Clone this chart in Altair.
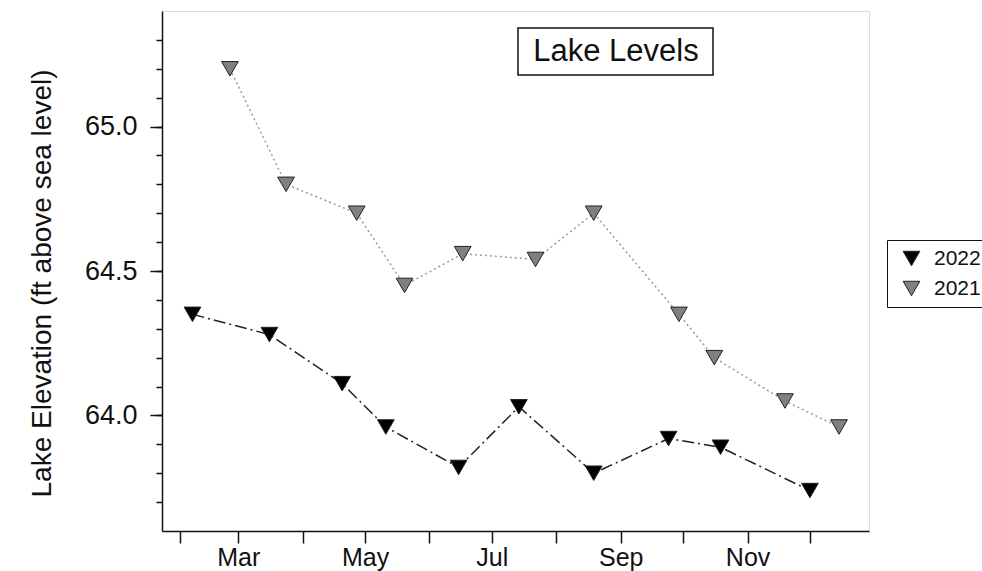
import altair as alt
import pandas as pd

FONT = "Liberation Sans"
TITLE = "Lake Levels"
Y_TITLE = "Lake Elevation (ft above sea level)"

# Survey dates (month-day) and lake elevations, one list pair per season
dates_2022 = ["02-07", "03-16", "04-20", "05-11", "06-15", "07-14",
              "08-19", "09-24", "10-19", "12-01"]
levels_2022 = [64.35, 64.28, 64.11, 63.96, 63.82, 64.03,
               63.80, 63.92, 63.89, 63.74]

dates_2021 = ["02-25", "03-24", "04-27", "05-20", "06-17", "07-22",
              "08-19", "09-29", "10-16", "11-19", "12-15"]
levels_2021 = [65.20, 64.80, 64.70, 64.45, 64.56, 64.54,
               64.70, 64.35, 64.20, 64.05, 63.96]

series = ["2022", "2021"]
fills = ["#000000", "#808080"]

# Both seasons are drawn against one shared Jan-Dec calendar axis
rows = []
for d, v in zip(dates_2022, levels_2022):
    rows.append({"year": "2022", "day": f"2022-{d}", "level": v})
for d, v in zip(dates_2021, levels_2021):
    rows.append({"year": "2021", "day": f"2022-{d}", "level": v})
df = pd.DataFrame(rows)

x_scale = alt.Scale(
    type="utc",
    domain=[alt.DateTime(year=2022, month=1, date=23, hours=8, utc=True),
            alt.DateTime(year=2022, month=12, date=29, hours=10, utc=True)],
)
month_ticks = [alt.DateTime(year=2022, month=m, date=1, utc=True) for m in range(2, 13)]
x_axis = alt.Axis(
    values=month_ticks,
    labelExpr="utcmonth(datum.value) % 2 == 0 ? utcFormat(datum.value, '%b') : ''",
    title=None, grid=False, tickSize=12, tickColor="#111", tickWidth=1.5,
    labelFontSize=25, labelFont=FONT, labelColor="#111", labelPadding=2,
    labelBaseline="top", domainColor="#111", domainWidth=1.5,
)
x_enc = alt.X("day:T", scale=x_scale, axis=x_axis)

y_scale = alt.Scale(domain=[63.6, 65.4], nice=False, zero=False)
y_major = alt.Axis(
    orient="left", values=[64.0, 64.5, 65.0], format=".1f", grid=False,
    tickSize=12, tickColor="#111", tickWidth=1.5, labelFontSize=27,
    labelFont=FONT, labelColor="#111", labelPadding=13,
    domainColor="#111", domainWidth=1.5,
    title=Y_TITLE, titleFont=FONT, titleFontSize=28, titleFontWeight="normal",
    titleColor="#111", titleAngle=270, titleX=-120, titleY=272,
    titleAlign="center", titleBaseline="middle",
)
minor_vals = [round(63.7 + 0.1 * i, 1) for i in range(17)]
y_minor = alt.Axis(
    orient="left", values=minor_vals, labels=False, grid=False, domain=False,
    tickSize=6, tickColor="#111", tickWidth=1.5, title=None,
)

base = alt.Chart(df)

line_2022 = base.transform_filter(alt.datum.year == "2022").mark_line(
    color="#222", strokeWidth=1.5, strokeDash=[12, 4, 2, 4]
).encode(x=x_enc, y=alt.Y("level:Q", scale=y_scale, axis=y_minor))

line_2021 = base.transform_filter(alt.datum.year == "2021").mark_line(
    color="#999", strokeWidth=1.5, strokeDash=[2, 3]
).encode(x=x_enc, y=alt.Y("level:Q", scale=y_scale, axis=None))

points = base.mark_point(
    shape="triangle-down", filled=True, size=280, stroke="#222",
    strokeWidth=1, opacity=1,
).encode(
    x=x_enc,
    y=alt.Y("level:Q", scale=y_scale, axis=y_major),
    fill=alt.Fill(
        "year:N",
        scale=alt.Scale(domain=series, range=fills),
        legend=alt.Legend(
            title=None, orient="none", legendX=725, legendY=229,
            strokeColor="#111", padding=8, symbolType="triangle-down",
            symbolSize=280, symbolStrokeColor="#222", symbolStrokeWidth=1,
            symbolOffset=6, labelOffset=12, labelFontSize=21, labelFont=FONT,
            labelColor="#111", rowPadding=8,
        ),
    ),
)

title_df = pd.DataFrame({"label": [TITLE]})
title_box = alt.Chart(title_df).mark_rect(
    fill="white", stroke="#111", strokeWidth=1.5
).encode(x=alt.value(356), x2=alt.value(551), y=alt.value(17), y2=alt.value(64))
title_text = alt.Chart(title_df).mark_text(
    font=FONT, fontSize=31, color="#111", align="center", baseline="middle"
).encode(x=alt.value(454), y=alt.value(41), text="label:N")

chart = alt.layer(
    line_2022, line_2021, points, title_box, title_text
).resolve_axis(y="independent").properties(
    width=707, height=520,
    autosize=alt.AutoSizeParams(type="none"),
    padding={"left": 162, "top": 11, "right": 113, "bottom": 40},
).configure_view(stroke="#111", strokeWidth=1.5).configure(background="white")

chart.save("out.html", embed_options={"renderer": "svg", "actions": False})
